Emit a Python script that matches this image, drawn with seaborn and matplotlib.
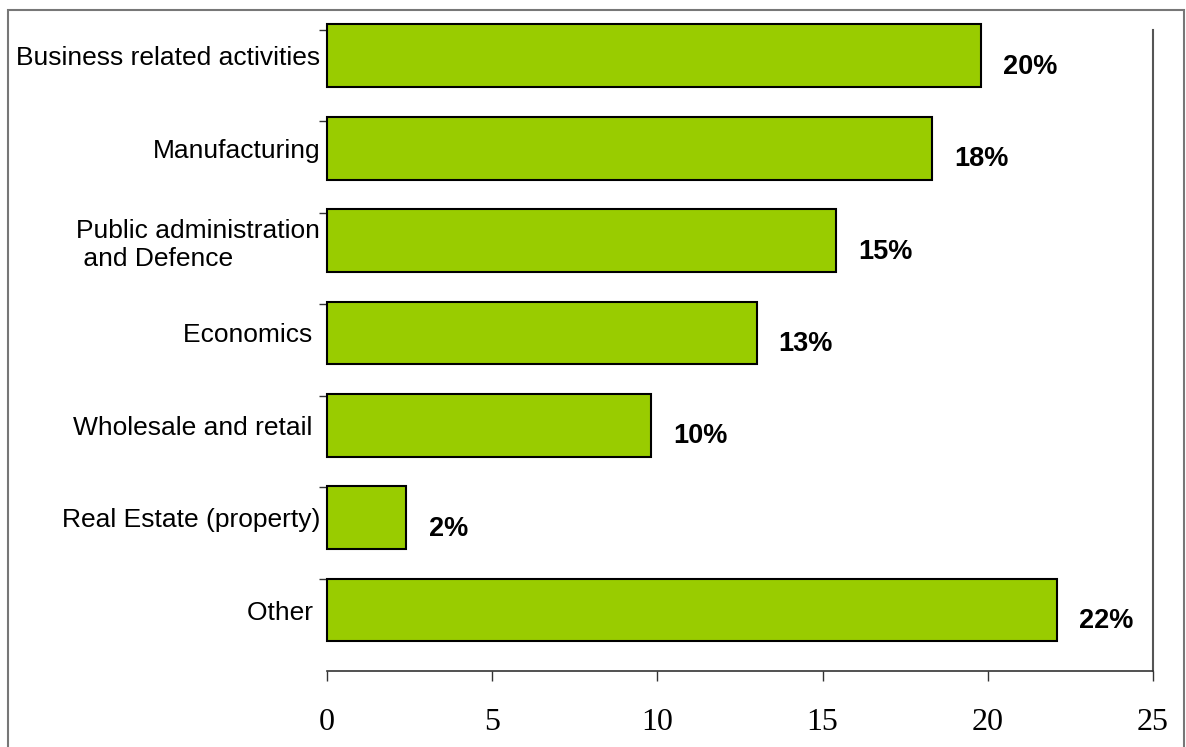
import seaborn as sns
import matplotlib.pyplot as plt
import matplotlib.patches as mpatches
import pandas as pd
import numpy as np

# data
sectors = ['Business related activities', 'Manufacturing',
           'Public administration\n and Defence', 'Economics ',
           'Wholesale and retail ', 'Real Estate (property)', 'Other ']
share = [19.8, 18.3, 15.4, 13.0, 9.8, 2.4, 22.1]
share_labels = ['20%', '18%', '15%', '13%', '10%', '2%', '22%']
x_ticks = [0, 5, 10, 15, 20, 25]

df = pd.DataFrame({'sector': sectors, 'share': share})

sns.set_style('white')
plt.rcParams['font.family'] = ['Liberation Sans', 'DejaVu Sans']
plt.rcParams['text.color'] = 'black'
plt.rcParams['xtick.color'] = 'black'
plt.rcParams['ytick.color'] = 'black'

fig = plt.figure(figsize=(11.86, 7.47), dpi=100)
ax = fig.add_axes([327/1186, 1-671/747, (1153-327)/1186, (671-30)/747])

sns.barplot(data=df, x='share', y='sector', orient='h', color='#99CC00',
            edgecolor='black', linewidth=1.5, width=0.68, saturation=1, ax=ax)
for p in ax.patches:
    p.set_clip_on(False)

ax.set_xlim(0, 25)
ax.set_ylim(6.66, -0.28)
ax.set_xticks(x_ticks)
ax.set_xticklabels([str(t) for t in x_ticks], family='Liberation Serif', fontsize=23)
ax.tick_params(axis='x', bottom=True, direction='out', length=7, width=1,
               color='#333333', labelcolor='black', pad=20)
ax.tick_params(axis='y', which='major', left=True, length=0, pad=5,
               labelsize=19, labelcolor='black')
ax.set_yticks(np.arange(-0.28, 6.5, 0.99), minor=True)
ax.tick_params(axis='y', which='minor', left=True, direction='out', length=6,
               width=1, color='#333333')
for lbl in ax.get_yticklabels():
    lbl.set_multialignment('left')
ax.set_xlabel('')
ax.set_ylabel('')

for s in ['top', 'left']:
    ax.spines[s].set_visible(False)
ax.spines['bottom'].set_color('#333333')
ax.spines['right'].set_color('#555555')
ax.spines['bottom'].set_linewidth(1.2)
ax.spines['right'].set_linewidth(1.5)

for i, (v, lab) in enumerate(zip(share, share_labels)):
    ax.annotate(lab, (v, i), xytext=(16, -8), textcoords='offset points',
                ha='left', va='center', fontsize=19.5, fontweight='bold',
                color='black')

# outer frame
fig.patches.append(mpatches.Rectangle((8/1186, -0.02), (1184-8)/1186, 1.02-10/747,
                                      transform=fig.transFigure, fill=False,
                                      edgecolor='#777777', linewidth=1.5))

plt.savefig('out.png', dpi=100)
